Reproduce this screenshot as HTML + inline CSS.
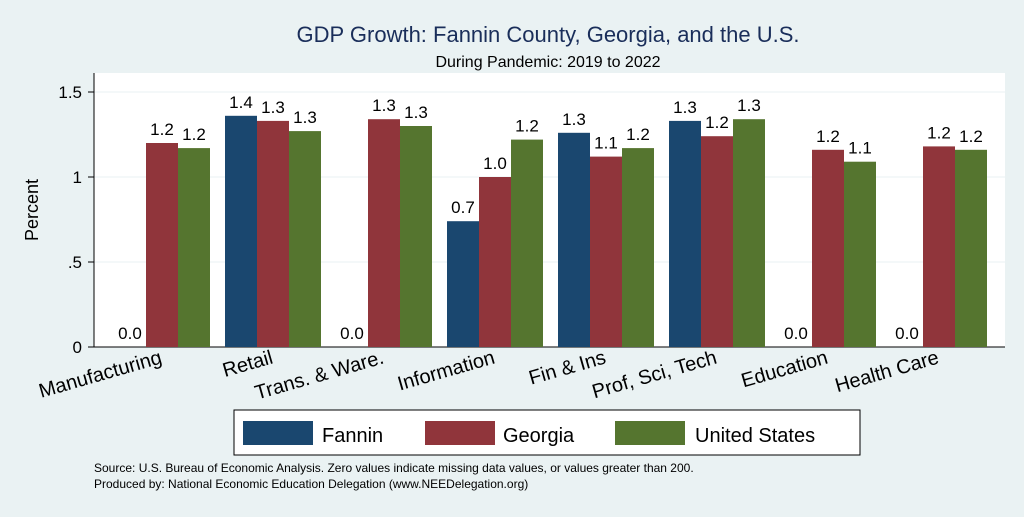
<!DOCTYPE html>
<html><head><meta charset="utf-8"><style>
body{margin:0;background:#eaf2f3;font-family:"Liberation Sans",sans-serif;}
svg text{font-family:"Liberation Sans",sans-serif;}
</style></head><body>
<svg id="c" width="1024" height="512" xmlns="http://www.w3.org/2000/svg">
<rect width="1024" height="512" fill="#eaf2f3"/>
<text x="548" y="42" font-size="22" fill="#1a2e5a" text-anchor="middle">GDP Growth: Fannin County, Georgia, and the U.S.</text>
<text x="548" y="67" font-size="16" fill="#000" text-anchor="middle">During Pandemic: 2019 to 2022</text>
<rect x="94" y="73" width="911" height="274" fill="#fff"/>
<g id="grid"></g><g id="bars"></g><g id="xl"></g>
<text transform="translate(38,210) rotate(-90)" font-size="18" text-anchor="middle">Percent</text>
<g>
<rect x="234" y="410" width="626" height="45" fill="#fff" stroke="#000" stroke-width="1"/>
<rect x="243" y="421" width="70" height="24" fill="#1a476f"/>
<text x="322" y="442" font-size="20">Fannin</text>
<rect x="425" y="421" width="70" height="24" fill="#90353b"/>
<text x="503" y="442" font-size="20">Georgia</text>
<rect x="615" y="421" width="70" height="24" fill="#55752f"/>
<text x="695" y="442" font-size="20">United States</text>
</g>
<text x="94" y="472" font-size="12">Source: U.S. Bureau of Economic Analysis. Zero values indicate missing data values, or values greater than 200.</text>
<text x="94" y="488" font-size="12">Produced by: National Economic Education Delegation (www.NEEDelegation.org)</text>
</svg>
<script>
const categories=["Manufacturing","Retail","Trans. & Ware.","Information","Fin & Ins","Prof, Sci, Tech","Education","Health Care"];
const fannin=[0,1.36,0,0.74,1.26,1.33,0,0];
const georgia=[1.2,1.33,1.34,1.0,1.12,1.24,1.16,1.18];
const us=[1.17,1.27,1.30,1.22,1.17,1.34,1.09,1.16];
const yTicks=[0,0.5,1,1.5];
const yTickLabels=["0",".5","1","1.5"];
const NS="http://www.w3.org/2000/svg";
const y=v=>347-v*170;
const gx=i=>114+i*111;
function mk(t,a,p){const e=document.createElementNS(NS,t);for(const k in a)e.setAttribute(k,a[k]);p.appendChild(e);return e;}
const grid=document.getElementById('grid');
yTicks.forEach((t,i)=>{
 if(t>0){const l=mk('line',{x1:94,x2:1005,y1:y(t),y2:y(t),stroke:'#eaf2f3','stroke-width':1},grid);
 
 }
 const tk=mk('line',{x1:88,x2:94,y1:y(t),y2:y(t),stroke:'#000'},grid);
 
 
 const tx=mk('text',{x:82,y:y(t)+6,'font-size':17,'text-anchor':'end'},grid);tx.textContent=yTickLabels[i];
 
 
});
const ax=mk('line',{x1:94,x2:94,y1:73,y2:347,stroke:'#000'},grid);


const ax2=mk('line',{x1:94,x2:1005,y1:347,y2:347,stroke:'#000'},grid);


const bars=document.getElementById('bars');
const series=[[fannin,'#1a476f','fannin'],[georgia,'#90353b','georgia'],[us,'#55752f','us']];
categories.forEach((c,i)=>{
 series.forEach(([d,col,n],s)=>{
  const x=gx(i)+s*32,v=d[i];
  const r=mk('rect',{x:x,y:y(v),width:32,height:347-y(v),fill:col},bars);
  
  
  const t=mk('text',{x:x+16,y:y(v)-8,'font-size':17,'text-anchor':'middle'},bars);t.textContent=v.toFixed(1);
  
  
 });
 const cx=gx(i)+49;
 const t=mk('text',{x:cx,y:363,'font-size':20,'text-anchor':'end',transform:`rotate(-16 ${cx} 363)`},document.getElementById('xl'));t.textContent=c;
 
 
});
</script>
</body></html>
